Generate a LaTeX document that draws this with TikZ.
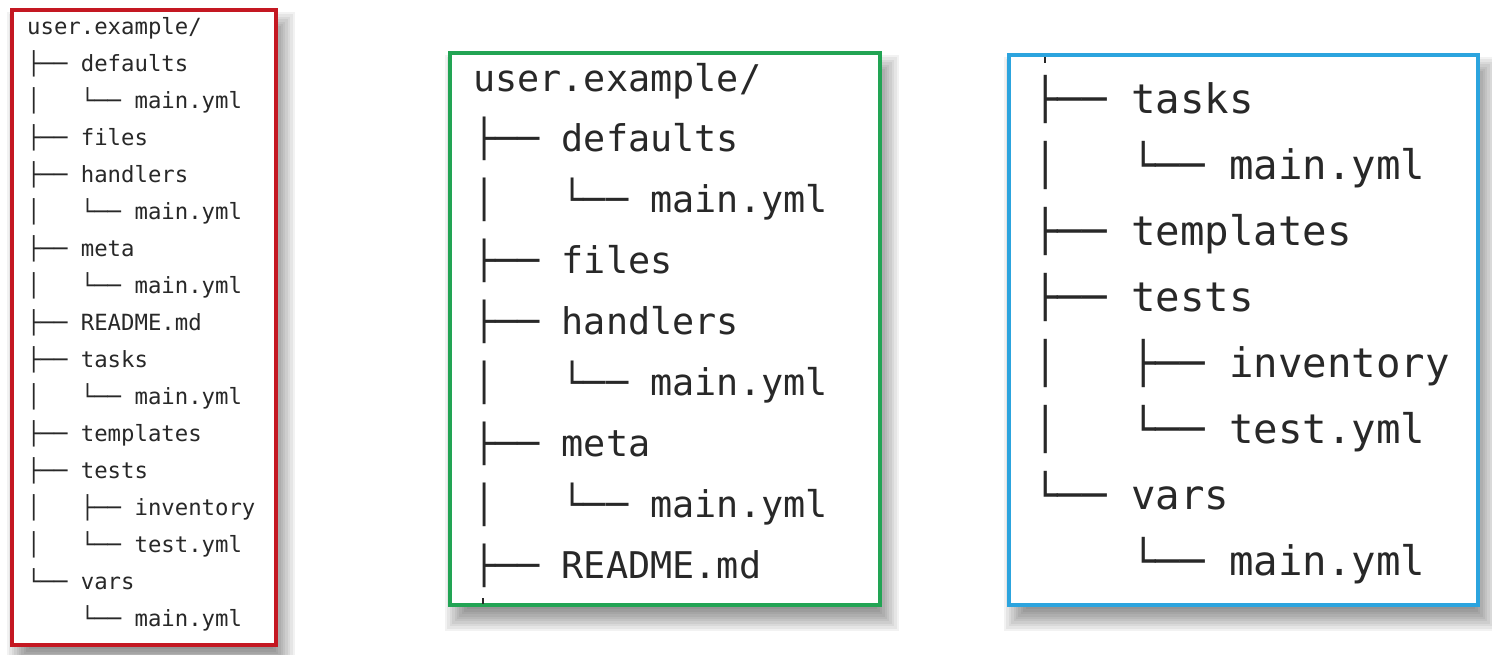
\documentclass[tikz,border=0pt]{standalone}
\usepackage{fontspec}
\setmonofont{DejaVu Sans Mono}
\definecolor{boxred}{RGB}{196,24,34}
\definecolor{boxgreen}{RGB}{34,164,84}
\definecolor{boxblue}{RGB}{44,164,222}
\definecolor{treegray}{RGB}{40,40,40}

\begin{document}
\begin{tikzpicture}[x=1pt, y=-1pt,
    frame/.style={line width=3.5pt, fill=white},
    redrow/.style={anchor=base west, inner sep=0pt, text=treegray, font=\ttfamily\fontsize{22.3}{26}\selectfont},
    greenrow/.style={anchor=base west, inner sep=0pt, text=treegray, font=\ttfamily\fontsize{36.8}{44}\selectfont},
    bluerow/.style={anchor=base west, inner sep=0pt, text=treegray, font=\ttfamily\fontsize{40.7}{48}\selectfont},
    tick/.style={line width=1.6pt, treegray}]
  \useasboundingbox (0,0) rectangle (1492,654);
  \fill[white] (0,0) rectangle (1492,654);

  % soft shadows under the three boxes
  \foreach \xa/\ya/\xb/\yb in {12/10/276/645, 450/53/880/605, 1009/55/1478/605}
    \foreach \k in {0,...,9}
      \fill[black, opacity=0.05] ({\xa+7-12+2.4*\k},{\ya+14-12+2.4*\k}) rectangle ({\xb+7+12-2.4*\k},{\yb+14+12-2.4*\k});

  % frames
  \draw[frame, draw=boxred] (12,10) rectangle (276,645);
  \draw[frame, draw=boxgreen] (450,53) rectangle (880,605);
  \draw[frame, draw=boxblue] (1009,55) rectangle (1478,605);

  % full tree
  \foreach \row [count=\i] in {user.example/, ├──~defaults, │~~~└──~main.yml, ├──~files, ├──~handlers, │~~~└──~main.yml, ├──~meta, │~~~└──~main.yml, ├──~README.md, ├──~tasks, │~~~└──~main.yml, ├──~templates, ├──~tests, │~~~├──~inventory, │~~~└──~test.yml, └──~vars, ~~~~└──~main.yml}
    \node[redrow] (red\i) at (27,{34+37*(\i-1)}) {\row};

  % first half
  \foreach \row [count=\i] in {user.example/, ├──~defaults, │~~~└──~main.yml, ├──~files, ├──~handlers, │~~~└──~main.yml, ├──~meta, │~~~└──~main.yml, ├──~README.md}
    \node[greenrow] (green\i) at (473,{91+60.9*(\i-1)}) {\row};
  \draw[tick] (483,598) -- (483,604);

  % second half
  \foreach \row [count=\i] in {├──~tasks, │~~~└──~main.yml, ├──~templates, ├──~tests, │~~~├──~inventory, │~~~└──~test.yml, └──~vars, ~~~~└──~main.yml}
    \node[bluerow] (blue\i) at (1033,{113+66*(\i-1)}) {\row};
  \draw[tick] (1045,57) -- (1045,63);
\end{tikzpicture}
\end{document}
